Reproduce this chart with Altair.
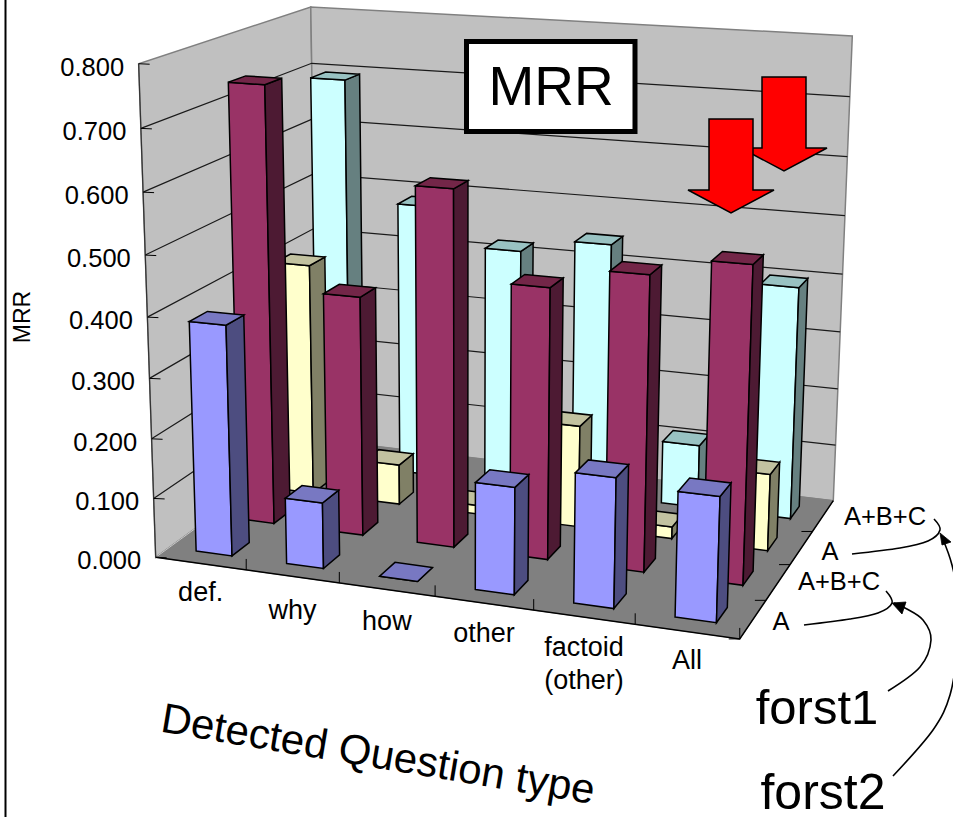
import altair as alt
import numpy as np
import pandas as pd

categories = ["def.", "why", "how", "other", "factoid", "All"]
series_names = ["A", "A+B+C", "A", "A+B+C"]
# MRR per question type, nearest row first
row_forst1_a = [0.385, 0.11, 0.00, 0.175, 0.21, 0.20]
row_forst1_abc = [0.74, 0.405, 0.595, 0.45, 0.485, 0.515]
row_forst2_a = [0.405, 0.07, 0.015, 0.175, 0.02, 0.13]
row_forst2_abc = [0.695, 0.485, 0.42, 0.445, 0.11, 0.40]
rows = [row_forst1_a, row_forst1_abc, row_forst2_a, row_forst2_abc]
y_ticks = [0.0, 0.1, 0.2, 0.3, 0.4, 0.5, 0.6, 0.7, 0.8]

# (front, side, top) shades for each row
row_colors = [
    ("#9999FF", "#4D4D80", "#7878C2"),
    ("#993366", "#4D1A33", "#732648"),
    ("#FFFFCC", "#808066", "#C2C2A0"),
    ("#CCFFFF", "#668080", "#99C2C2"),
]

W, H = 953, 817
VMAX = 0.8
BAR_FRAC = 0.4

# Camera fit: box coordinates (u along categories, v in depth, MRR) to page pixels
calibration = [
    (0, 0, 0.0, 157, 558), (1, 0, 0.0, 739, 639), (1, 1, 0.0, 835, 501), (0, 1, 0.0, 316, 438),
    (0, 0, 0.8, 137, 63), (0, 1, 0.8, 313, 6), (1, 1, 0.8, 852, 36),
    (0, 0, 0.4, 147, 317), (0, 1, 0.4, 314, 230), (1, 1, 0.4, 842, 274),
    (0, 0, 0.6, 143, 192), (0, 1, 0.6, 313, 120), (1, 1, 0.6, 847, 157),
    (0, 0, 0.2, 153, 439), (0, 1, 0.2, 315, 335), (1, 1, 0.2, 838, 388),
]
A, b = [], []
for u, v, m, px, py in calibration:
    z = m / VMAX
    A.append([u, v, z, 1, 0, 0, 0, 0, -px * u, -px * v, -px * z])
    b.append(px)
    A.append([0, 0, 0, 0, u, v, z, 1, -py * u, -py * v, -py * z])
    b.append(py)
sol = np.linalg.lstsq(np.array(A, float), np.array(b, float), rcond=None)[0]
P = np.append(sol, 1.0).reshape(3, 4)


def project(u, v, m):
    p = P @ np.array([u, v, m / VMAX, 1.0])
    return [float(p[0] / p[2]), float(p[1] / p[2])]


features = []


def add(coords, fill="transparent", stroke="#000000", sw=1.0, closed=True):
    if closed:
        geom = {"type": "Polygon", "coordinates": [coords + [coords[0]]]}
    else:
        geom = {"type": "LineString", "coordinates": coords}
    features.append({"type": "Feature", "geometry": geom,
                     "properties": {"fill": fill, "stroke": stroke, "sw": sw}})


# Walls and floor
add([project(0, 0, 0), project(0, 1, 0), project(0, 1, VMAX), project(0, 0, VMAX)], "#C0C0C0", "#808080", 1.5)
add([project(0, 1, 0), project(1, 1, 0), project(1, 1, VMAX), project(0, 1, VMAX)], "#C0C0C0", "#808080", 1.5)
for t in y_ticks[1:-1]:
    add([project(0, 0, t), project(0, 1, t), project(1, 1, t)], closed=False, sw=1.2, stroke="#1a1a1a")
add([project(0, 0, 0), project(1, 0, 0), project(1, 1, 0), project(0, 1, 0)], "#808080", "#808080", 1)
add([project(0, 1, 0), project(0, 0, 0)], closed=False, stroke="#c8c8c8", sw=1)
add([project(0, 0, 0), project(1, 0, 0), project(1, 1, 0)], closed=False, sw=1.5)
add([project(0, 0, 0), project(0, 0, VMAX)], closed=False, sw=1.2, stroke="#333333")

# Axis tick marks
for t in y_ticks:
    a = project(0, 0, t)
    add([a, [a[0] + 11, a[1] + 0.5]], closed=False, sw=1)
for i in range(1, 7):
    a = project(i / 6, 0, 0)
    add([a, [a[0], a[1] - 11]], closed=False, sw=1)
for j in range(0, 4):
    a = project(1, j / 4, 0)
    add([a, [a[0] - 11, a[1]]], closed=False, sw=1)

# Bars, painted from the back row forward
for j in range(3, -1, -1):
    front, side, top = row_colors[j]
    v0, v1 = (j + 0.5 - BAR_FRAC / 2) / 4, (j + 0.5 + BAR_FRAC / 2) / 4
    for i, val in enumerate(rows[j]):
        u0, u1 = (i + 0.5 - BAR_FRAC / 2) / 6, (i + 0.5 + BAR_FRAC / 2) / 6
        add([project(u0, v0, 0), project(u1, v0, 0), project(u1, v0, val), project(u0, v0, val)], front, sw=1.5)
        add([project(u1, v0, 0), project(u1, v1, 0), project(u1, v1, val), project(u1, v0, val)], side, sw=1.5)
        add([project(u0, v0, val), project(u1, v0, val), project(u1, v1, val), project(u0, v1, val)], top, sw=1.5)


def down_arrow(cx, top, shoulder, tip, half_shaft, half_head):
    return [[cx - half_shaft, top], [cx + half_shaft, top], [cx + half_shaft, shoulder],
            [cx + half_head, shoulder], [cx, tip], [cx - half_head, shoulder], [cx - half_shaft, shoulder]]


# Callouts on the back wall
add([[466.5, 41.5], [635, 41.5], [635, 131.5], [466.5, 131.5]], "#FFFFFF", sw=5)
add(down_arrow(784, 77, 148, 171, 22, 43), "#FF0000", sw=1.5)
add(down_arrow(731, 119, 190, 213, 22, 43), "#FF0000", sw=1.5)

# Arrow heads of the annotation leaders
add([[892, 603], [906, 602], [902, 614]], "#000000", sw=0.8)
add([[940, 533], [951, 542], [942, 545]], "#000000", sw=0.8)
# Frame edge
add([[5.5, 0], [5.5, 817]], closed=False, sw=2)

geo = (
    alt.Chart(alt.InlineData(values=features))
    .mark_geoshape(strokeJoin="miter")
    .encode(
        fill=alt.Fill("properties.fill:N", scale=None, legend=None),
        stroke=alt.Stroke("properties.stroke:N", scale=None, legend=None),
        strokeWidth=alt.StrokeWidth("properties.sw:Q", scale=None, legend=None),
    )
    .project(type="identity", scale=1, translate=[0, 0])
)

sx = alt.Scale(domain=[0, W], range=[0, W], nice=False, zero=False)
sy = alt.Scale(domain=[0, H], range=[0, H], nice=False, zero=False)


def text_layer(records, size, angle=0, align="center"):
    return (
        alt.Chart(pd.DataFrame(records, columns=["px", "py", "label"]))
        .mark_text(font="Liberation Sans", fontSize=size, angle=angle, align=align,
                   baseline="middle", color="#000000")
        .encode(x=alt.X("px:Q", scale=sx, axis=None), y=alt.Y("py:Q", scale=sy, axis=None), text="label:N")
    )


tick_rows = []
for t in y_ticks:
    a = project(0, 0, t)
    tick_rows.append((a[0] - 14.5, a[1] + 4, f"{t:.3f}"))

cat_nudge = [29, 35, 32, 31, 31, 29]
cat_rows = []
for i, (name, dy) in enumerate(zip(categories, cat_nudge)):
    a = project((i + 0.5) / 6, 0, 0)
    cat_rows.append((a[0], a[1] + dy, name))
a = project(4.5 / 6, 0, 0)
cat_rows.append((a[0], a[1] + 64, "(other)"))

depth_labels = [(781, 622), (839, 582), (830, 552), (885, 517)]
depth_rows = [(x, y, n) for (x, y), n in zip(depth_labels, series_names)]

# Annotation leaders as smooth curves
leaders = {
    "bracket1": [(804, 625), (850, 619), (878, 613), (892, 603), (886, 591)],
    "bracket2": [(852, 554), (900, 548), (928, 541), (940, 530), (934, 519)],
    "forst1": [(888, 691), (920, 667), (931, 640), (923, 620), (905, 608), (894, 603)],
    "forst2": [(893, 776), (933, 730), (950, 695), (957, 650), (958, 600), (952, 565), (942, 537)],
}
leader_rows = [
    {"id": k, "seq": n, "px": p[0], "py": p[1]}
    for k, pts in leaders.items() for n, p in enumerate(pts)
]
lines = (
    alt.Chart(pd.DataFrame(leader_rows))
    .mark_line(interpolate="cardinal", color="#000000", strokeWidth=1.6, clip=True)
    .encode(x=alt.X("px:Q", scale=sx, axis=None), y=alt.Y("py:Q", scale=sy, axis=None),
            detail="id:N", order="seq:Q")
)

chart = alt.layer(
    geo,
    lines,
    text_layer(tick_rows, 25.5, align="right"),
    text_layer(cat_rows, 27),
    text_layer(depth_rows, 25.5),
    text_layer([(23, 317, "MRR")], 23, angle=270),
    text_layer([(551, 88, "MRR")], 55),
    text_layer([(378, 755, "Detected Question type")], 42, angle=9.5),
    text_layer([(817, 709, "forst1")], 49),
    text_layer([(823, 794, "forst2")], 50),
).resolve_scale(x="shared", y="shared").properties(
    width=W, height=H, padding=0, background="#FFFFFF", autosize=alt.AutoSizeParams(type="none")
).configure_view(stroke=None)

chart.save("out.html", embed_options={"renderer": "svg", "actions": False})
